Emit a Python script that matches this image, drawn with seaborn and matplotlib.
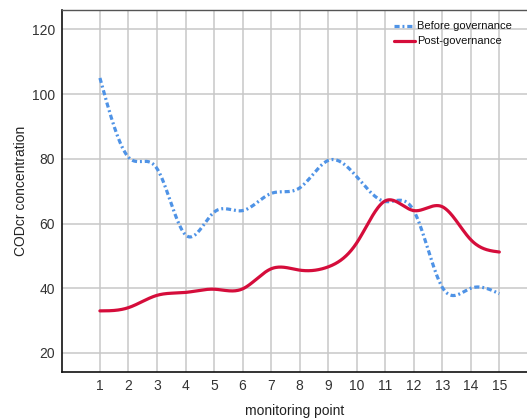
import numpy as np
import pandas as pd
import seaborn as sns
import matplotlib
matplotlib.use("Agg")
import matplotlib.pyplot as plt

# Monitoring points and CODcr concentrations
points = [1, 2, 3, 4, 5, 6, 7, 8, 9, 10, 11, 12, 13, 14, 15]
before = [105, 80.5, 77, 56.5, 63.5, 64, 69.3, 71, 79.5, 74.5, 66.8, 64, 40.3, 40, 38.3]
after = [33, 34, 37.8, 38.7, 39.7, 39.8, 46, 45.6, 46.6, 54, 67, 64, 65.2, 55, 51.2]
series_names = ["Before governance", "Post-governance"]
y_ticks = [20, 40, 60, 80, 100, 120]


def natural_spline(x, y, n=600):
    """Natural cubic spline through (x, y), sampled densely for a smooth curve."""
    x = np.asarray(x, float)
    y = np.asarray(y, float)
    k = len(x)
    h = np.diff(x)
    A = np.zeros((k, k))
    r = np.zeros(k)
    A[0, 0] = A[-1, -1] = 1.0
    for i in range(1, k - 1):
        A[i, i - 1] = h[i - 1]
        A[i, i] = 2 * (h[i - 1] + h[i])
        A[i, i + 1] = h[i]
        r[i] = 3 * ((y[i + 1] - y[i]) / h[i] - (y[i] - y[i - 1]) / h[i - 1])
    c = np.linalg.solve(A, r)
    b = (y[1:] - y[:-1]) / h - h * (2 * c[:-1] + c[1:]) / 3
    d = (c[1:] - c[:-1]) / (3 * h)
    xs = np.linspace(x[0], x[-1], n)
    idx = np.clip(np.searchsorted(x, xs) - 1, 0, k - 2)
    t = xs - x[idx]
    ys = y[idx] + b[idx] * t + c[idx] * t ** 2 + d[idx] * t ** 3
    return xs, ys


frames = []
for name, vals in zip(series_names, [before, after]):
    xs, ys = natural_spline(points, vals)
    frames.append(pd.DataFrame({"point": xs, "value": ys, "series": name}))
df = pd.concat(frames, ignore_index=True)

sns.set_theme(style="white")
plt.rcParams["font.family"] = ["Liberation Sans", "DejaVu Sans"]

fig = plt.figure(figsize=(5.27, 4.18), dpi=100)
ax = fig.add_axes([0.1176, 0.110, 0.884, 0.866])

colors = {"Before governance": "#4F93E6", "Post-governance": "#D50D3B"}
sns.lineplot(
    data=df, x="point", y="value", hue="series", style="series",
    palette=colors,
    dashes={"Before governance": (1.6, 0.9, 0.6, 0.9), "Post-governance": ""},
    linewidth=2.3, ax=ax, sort=False,
)

ax.set_xlim(-0.33, 16)
ax.set_ylim(14.1, 126)
ax.set_xticks(points)
ax.set_xticklabels([str(p) for p in points])
ax.set_yticks(y_ticks)
ax.grid(True, color="#c8c8c8", linewidth=1.1)
ax.set_axisbelow(True)
ax.tick_params(axis="both", labelsize=10, labelcolor="#333333", length=0, pad=5)

for side in ["left", "bottom"]:
    ax.spines[side].set_color("#111111")
    ax.spines[side].set_linewidth(1.2)
ax.spines["top"].set_color("#555555")
ax.spines["top"].set_linewidth(1.0)
ax.spines["right"].set_visible(False)

ax.set_xlabel("monitoring point", fontsize=10, color="#222222", labelpad=8)
ax.set_ylabel("CODcr concentration", fontsize=10, color="#222222", labelpad=3)

leg = ax.legend(
    loc="upper left", bbox_to_anchor=(0.737, 0.962), bbox_transform=fig.transFigure,
    frameon=False, fontsize=8, handlelength=1.9, handletextpad=0.15,
    borderpad=0, labelspacing=0.45, title=None,
)
for t in leg.get_texts():
    t.set_color("#111111")

fig.savefig("out.png", dpi=100)
